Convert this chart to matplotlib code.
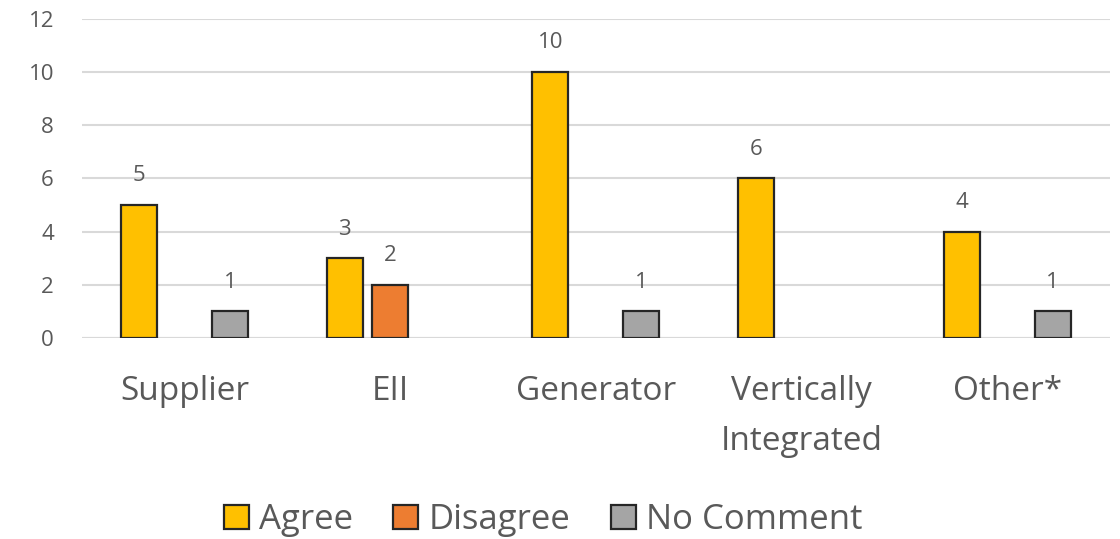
import numpy as np
import matplotlib.pyplot as plt

categories = ['Supplier', 'EII', 'Generator', 'Vertically\nIntegrated', 'Other*']
agree = [5, 3, 10, 6, 4]
disagree = [0, 2, 0, 0, 0]
no_comment = [1, 0, 1, 0, 1]

plt.rcParams['font.family'] = ['Open Sans', 'DejaVu Sans']
txt = '#595959'

fig = plt.figure(figsize=(11.2, 5.39), dpi=100)
ax = fig.add_axes([0.073, 0.373, 0.918, 0.592])

x = np.arange(len(categories))
w = 0.175
off = 0.221
series = [
    ('Agree', agree, '#FFC000', -off),
    ('Disagree', disagree, '#ED7D31', 0),
    ('No Comment', no_comment, '#A5A5A5', off),
]
for name, vals, col, dx in series:
    vals = np.array(vals, dtype=float)
    shown = np.where(vals > 0, vals, np.nan)
    ax.bar(x + dx, shown, w, color=col, edgecolor='#262626',
           linewidth=1.6, label=name, zorder=3)
    for xi, v in zip(x + dx, vals):
        if v > 0:
            ax.text(xi, v + 0.7, f'{int(v)}', ha='center', va='bottom',
                    fontsize=16, color=txt)

ax.set_xlim(-0.5, len(categories) - 0.5)
ax.set_ylim(0, 12)
ax.set_yticks(range(0, 13, 2))
ax.yaxis.grid(True, color='#D9D9D9', linewidth=1.5, zorder=0)
ax.set_axisbelow(True)
for s in ax.spines.values():
    s.set_visible(False)
ax.tick_params(axis='both', length=0, colors=txt)
ax.tick_params(axis='y', labelsize=16, pad=20)
ax.set_xticks(x)
ax.set_xticklabels(categories, fontsize=24, color=txt, va='top', linespacing=1.65)
ax.tick_params(axis='x', pad=27)
ax.axhline(0, color='#D9D9D9', linewidth=1.5, zorder=1)

fig.legend(loc='center', bbox_to_anchor=(0.485, 0.035), ncol=3, frameon=False,
           fontsize=25, handlelength=0.72, handleheight=0.72, handletextpad=0.3,
           columnspacing=1.15, labelcolor=txt)

fig.savefig('out.png', dpi=100)
